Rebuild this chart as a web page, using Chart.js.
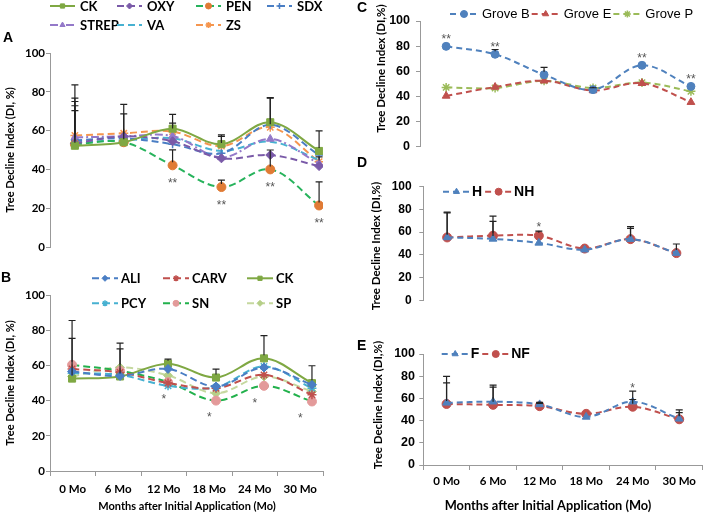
<!DOCTYPE html>
<html lang="en">
<head>
<meta charset="utf-8" />
<title>Tree Decline Index</title>
<script src="https://cdn.jsdelivr.net/npm/chart.js@4.4.1/dist/chart.umd.min.js"></script>
<style>
  html, body { margin: 0; padding: 0; background: #fff; }
  #wrap { position: relative; width: 708px; height: 515px; overflow: hidden; }
  #wrap canvas { position: absolute; }
</style>
</head>
<body>
<div id="wrap">
  <canvas id="chartA" width="340" height="258" style="left:0;top:0"></canvas>
  <canvas id="chartB" width="340" height="257" style="left:0;top:258px"></canvas>
  <canvas id="chartC" width="358" height="160" style="left:350px;top:0"></canvas>
  <canvas id="chartD" width="358" height="160" style="left:350px;top:155px"></canvas>
  <canvas id="chartE" width="358" height="200" style="left:350px;top:315px"></canvas>
</div>
<script>
// ---- data ----
const months = ['0 Mo', '6 Mo', '12 Mo', '18 Mo', '24 Mo', '30 Mo'];
const yTickValues = [0, 20, 40, 60, 80, 100];

// panel A
const ckA    = [52.2, 54.0, 61.0, 53.0, 64.3, 49.5];
const oxyA   = [53.4, 57.0, 54.5, 45.7, 47.4, 41.7];
const penA   = [53.0, 54.0, 42.1, 30.9, 40.0, 21.4];
const sdxA   = [55.0, 56.0, 53.0, 48.3, 63.0, 47.4];
const strepA = [56.5, 57.0, 57.2, 46.2, 55.7, 43.0];
const vaA    = [54.0, 55.0, 56.0, 49.5, 54.3, 44.8];
const zsA    = [57.5, 58.6, 59.5, 52.0, 61.7, 44.0];
const ckAErr    = [31.4, 19.5, 7.4, 4.8, 12.7, 10.4];
const oxyAErr   = [19.4, 11.6, 0, 0, 0, 0];
const penAErr   = [0, 0, 8.0, 3.6, 10.0, 12.2];
const sdxAErr   = [20.0, 0, 0, 0, 0, 0];
const strepAErr = [13.8, 0, 0, 0, 0, 3.5];
const zsAErr    = [19.2, 0, 4.4, 5.0, 15.0, 0];
const penAStars = ['', '', '**', '**', '**', '**'];

// panel B
const aliB  = [56.5, 54.0, 58.0, 48.0, 58.8, 49.0];
const carvB = [58.0, 56.0, 50.0, 47.0, 54.6, 43.3];
const ckB   = [52.5, 53.7, 61.0, 53.1, 64.0, 49.9];
const pcyB  = [55.6, 54.6, 48.4, 47.6, 59.4, 47.0];
const snB   = [60.3, 56.9, 50.5, 40.0, 48.4, 39.5];
const spB   = [53.7, 58.8, 54.3, 44.2, 53.7, 45.2];
const ckBErr = [33.0, 19.0, 2.6, 4.8, 12.9, 9.9];
const snBErr = [15.0, 0, 0, 0, 0, 0];
const spBErr = [0, 10.6, 0, 0, 0, 0];
const snBStars = ['', '', '*', '*', '*', '*'];

// panel C
const groveB = [79.8, 73.5, 57.2, 45.3, 64.7, 47.9];
const groveE = [40.3, 47.4, 52.4, 44.6, 50.4, 35.3];
const groveP = [47.1, 46.6, 52.4, 46.6, 50.9, 44.0];
const groveBErr = [0, 3.8, 5.8, 1.5, 0, 0];
const groveBStars = ['**', '**', '', '', '**', '**'];

// panel D
const hD  = [55.3, 54.0, 50.5, 44.5, 53.8, 41.5];
const nhD = [55.3, 56.8, 56.8, 45.5, 53.8, 41.5];
const hDErr  = [21.7, 15.5, 0, 0, 9.5, 0];
const nhDErr = [22.3, 17.2, 4.0, 0, 11.0, 8.0];
const nhDStars = ['', '', '*', '', '', ''];

// panel E
const fE  = [56.0, 57.0, 54.6, 43.3, 57.0, 41.6];
const nfE = [55.0, 54.2, 53.0, 46.1, 52.5, 41.2];
const fEErr  = [23.8, 15.0, 1.8, 0, 9.5, 8.0];
const nfEErr = [19.0, 16.0, 2.5, 0, 6.5, 6.0];
const fEStars = ['', '', '', '', '*', ''];

// ---- styles ----
const GRAY = '#999';
const lato = sz => ({ family: 'Lato', size: sz, weight: 'bold' });
const libs = sz => ({ family: 'Liberation Sans', size: sz, weight: 'bold' });
const LETTER = 'bold 14px "Liberation Sans"';

function style(color, dash, marker, markerColor, r) {
  const mc = markerColor || color;
  return {
    borderColor: color, backgroundColor: mc, borderWidth: 2, borderDash: dash, tension: 0.35,
    pointStyle: marker || 'circle', pointRadius: marker ? r : 0,
    pointBackgroundColor: mc, pointBorderColor: mc,
    pointBorderWidth: (marker === 'star' || marker === 'cross') ? 1.5 : 1,
    xAxisID: 'xd'
  };
}
function series(label, values, errs, st, extra) {
  return Object.assign({ label, data: values.map((v, i) => ({ x: i, y: v })), errUp: errs }, st, extra || {});
}

// ---- plugins ----
const errBars = {
  id: 'errBars',
  afterDatasetsDraw(chart) {
    const ctx = chart.ctx, ys = chart.scales.y;
    chart.data.datasets.forEach((ds, di) => {
      if (!ds.errUp) return;
      const meta = chart.getDatasetMeta(di);
      ds.errUp.forEach((e, i) => {
        if (!e) return;
        const p = meta.data[i];
        const top = ys.getPixelForValue(ds.data[i].y + e);
        ctx.save();
        ctx.strokeStyle = '#222'; ctx.lineWidth = 1.2;
        ctx.beginPath();
        ctx.moveTo(p.x, p.y - 3); ctx.lineTo(p.x, top);
        ctx.moveTo(p.x - 3.5, top); ctx.lineTo(p.x + 3.5, top);
        ctx.stroke();
        ctx.restore();
      });
    });
  }
};

const starMarks = {
  id: 'starMarks',
  afterDatasetsDraw(chart) {
    const ctx = chart.ctx;
    chart.data.datasets.forEach((ds, di) => {
      if (!ds.stars) return;
      const meta = chart.getDatasetMeta(di);
      ds.stars.forEach((s, i) => {
        if (!s) return;
        const p = meta.data[i];
        const x = ds.starOnCategory ? chart.scales.x.getPixelForValue(i) : p.x;
        ctx.save();
        ctx.font = '12px "Liberation Sans"'; ctx.fillStyle = '#555';
        ctx.textAlign = 'center'; ctx.textBaseline = 'alphabetic';
        ctx.fillText(s, x, p.y + ds.starDy + 6.7);
        ctx.restore();
      });
    });
  }
};

function drawMarker(ctx, ds, r, x, y) {
  if (Chart.helpers && Chart.helpers.drawPoint) {
    Chart.helpers.drawPoint(ctx, { pointStyle: ds.pointStyle, radius: r, borderWidth: ds.pointBorderWidth, rotation: 0 }, x, y);
  } else {
    ctx.beginPath(); ctx.arc(x, y, r, 0, Math.PI * 2); ctx.fill();
  }
}

function legendPlugin(spec) {
  return {
    id: 'legendBox',
    afterDraw(chart) {
      const ctx = chart.ctx;
      ctx.save();
      ctx.font = spec.font; ctx.textBaseline = 'middle'; ctx.textAlign = 'left';
      let fx = spec.x;
      chart.data.datasets.forEach((ds, k) => {
        let x, y;
        if (spec.cols) { x = spec.cols[k % spec.cols.length]; y = spec.rows[Math.floor(k / spec.cols.length)]; }
        else { x = fx; y = spec.y; }
        ctx.strokeStyle = ds.borderColor; ctx.lineWidth = ds.borderWidth;
        ctx.setLineDash(ds.borderDash || []);
        ctx.beginPath(); ctx.moveTo(x, y); ctx.lineTo(x + spec.len, y); ctx.stroke();
        ctx.setLineDash([]);
        if (ds.pointRadius > 0) {
          ctx.fillStyle = ds.pointBackgroundColor; ctx.strokeStyle = ds.pointBorderColor;
          ctx.lineWidth = ds.pointBorderWidth;
          drawMarker(ctx, ds, spec.r || ds.pointRadius, x + spec.len / 2, y);
        }
        ctx.fillStyle = spec.color || '#000';
        const tx = x + spec.len + spec.gap;
        ctx.fillText(ds.label, tx, y + 0.5);
        fx = tx + ctx.measureText(ds.label).width + (spec.gap2 || 0);
      });
      ctx.restore();
    }
  };
}

function textPlugin(items) {
  return {
    id: 'panelTexts',
    afterDraw(chart) {
      const ctx = chart.ctx;
      items.forEach(it => {
        ctx.save();
        ctx.font = it.font; ctx.fillStyle = it.color || '#000';
        ctx.textAlign = it.align || 'center'; ctx.textBaseline = it.base || 'middle';
        ctx.translate(it.x, it.y);
        if (it.rot) ctx.rotate(it.rot * Math.PI / 180);
        ctx.fillText(it.t, 0, 0);
        ctx.restore();
      });
    }
  };
}

function makeChart(id, p) {
  return new Chart(document.getElementById(id), {
    type: 'line',
    data: { labels: months, datasets: p.datasets },
    options: {
      responsive: false, animation: false, events: [],
      layout: { padding: p.pad },
      plugins: { legend: { display: false }, tooltip: { enabled: false } },
      scales: {
        x: {
          type: 'category', display: !!p.xH, offset: true,
          grid: { offset: true, drawOnChartArea: false, drawTicks: true, tickLength: 5, color: GRAY },
          border: { display: true, color: GRAY, width: 1 },
          ticks: { font: p.xFont, color: '#000', padding: p.xPad, maxRotation: 0, autoSkip: false },
          afterFit: s => { s.height = p.xH || 0; }
        },
        xd: { type: 'linear', display: false, min: p.xd[0], max: p.xd[1] },
        y: {
          min: yTickValues[0], max: yTickValues[yTickValues.length - 1],
          afterBuildTicks: s => { s.ticks = yTickValues.map(v => ({ value: v })); },
          grid: { drawOnChartArea: false, drawTicks: true, tickLength: 4, color: GRAY },
          border: { display: true, color: GRAY, width: 1 },
          ticks: { font: p.yFont, color: '#000', padding: p.yPad },
          afterFit: s => { s.width = p.yW; }
        }
      }
    },
    plugins: [errBars, starMarks, legendPlugin(p.legend), textPlugin(p.texts)]
  });
}

const D1 = [7, 4];
const BLUE = '#4a7ec4', RED = '#c0504d', CKG = '#7fa843', CYAN = '#47b1d1';

// ---- panel A ----
makeChart('chartA', {
  pad: { left: 0, top: 53, right: 17, bottom: 11 }, yW: 50, yFont: lato(11.5), yPad: 1,
  xd: [-0.51, 5.08],
  datasets: [
    series('CK', ckA, ckAErr, style(CKG, [], 'rect', CKG, 5)),
    series('OXY', oxyA, oxyAErr, style('#7a5aa8', D1, 'rectRot', null, 4.5)),
    series('PEN', penA, penAErr, style('#27b35c', D1, 'circle', '#e07b35', 4.5), { stars: penAStars, starDy: 15 }),
    series('SDX', sdxA, sdxAErr, style(BLUE, D1, 'cross', null, 4)),
    series('STREP', strepA, strepAErr, style('#9479c9', [8, 3, 2, 3], 'triangle', null, 4.5)),
    series('VA', vaA, null, style(CYAN, D1, null)),
    series('ZS', zsA, zsAErr, style('#f5964f', D1, 'star', null, 4.5))
  ],
  legend: { cols: [50, 117, 196, 267], rows: [6, 25], len: 25, gap: 5, font: 'bold 13px Lato', r: 3 },
  texts: [
    { t: 'A', x: 3, y: 42, font: LETTER, align: 'left', base: 'alphabetic' },
    { t: 'Tree Decline Index (DI, %)', x: 10, y: 150, rot: -90, font: 'bold 11px Lato' }
  ]
});

// ---- panel B ----
makeChart('chartB', {
  pad: { left: 0, top: 37, right: 17, bottom: 0 }, yW: 50, yFont: lato(11.5), yPad: 1,
  xH: 44, xFont: lato(11.5), xPad: 6, xd: [-0.46, 5.23],
  datasets: [
    series('ALI', aliB, null, style(BLUE, D1, 'rectRot', null, 4.5)),
    series('CARV', carvB, null, style(RED, D1, 'star', null, 4.5)),
    series('CK', ckB, ckBErr, style(CKG, [], 'rect', CKG, 5)),
    series('PCY', pcyB, null, style(CYAN, D1, 'star', null, 4.5)),
    series('SN', snB, snBErr, style('#22b14c', D1, 'circle', '#e39a9a', 4.5), { stars: snBStars, starDy: 14, starOnCategory: true }),
    series('SP', spB, spBErr, style('#c5d89f', D1, 'rectRot', '#b6cf88', 4.5))
  ],
  legend: { cols: [92, 163, 247], rows: [20.3, 45.3], len: 26, gap: 3, font: 'bold 13px Lato', r: 3 },
  texts: [
    { t: 'B', x: 1, y: 24, font: LETTER, align: 'left', base: 'alphabetic' },
    { t: 'Tree Decline Index (DI, %)', x: 10, y: 125, rot: -90, font: 'bold 11px Lato' },
    { t: 'Months after Initial Application (Mo)', x: 187, y: 248.7, font: 'bold 11px Lato' }
  ]
});

// ---- panel C ----
makeChart('chartC', {
  pad: { left: 0, top: 21, right: 0, bottom: 6.7 }, yW: 70, yFont: libs(12.5), yPad: 6,
  xd: [-0.534, 5.226],
  datasets: [
    series('Grove B', groveB, groveBErr, style('#4f81bd', [6, 4], 'circle', null, 4), { stars: groveBStars, starDy: -10 }),
    series('Grove E', groveE, null, style(RED, [6, 4], 'triangle', null, 4.5)),
    series('Grove P', groveP, null, style('#9bbb59', [6, 4], 'star', null, 4.5))
  ],
  legend: { x: 100, y: 14, len: 28, gap: 4, gap2: 2, font: '13px "Liberation Sans"', r: 3.5 },
  texts: [
    { t: 'C', x: 7, y: 12, font: LETTER, align: 'left', base: 'alphabetic' },
    { t: 'Tree Decline Index (DI,%)', x: 31.7, y: 68.5, rot: -90, font: 'bold 11.5px Lato' }
  ]
});

// ---- panel D ----
makeChart('chartD', {
  pad: { left: 0, top: 31.7, right: 4.7, bottom: 11.7 }, yW: 73.3, yFont: libs(12), yPad: 7.6,
  xd: [-0.52, 5.57],
  datasets: [
    series('H', hD, hDErr, style('#4f81bd', [6, 4], 'triangle', null, 4.5)),
    series('NH', nhD, nhDErr, style(RED, [6, 4], 'circle', null, 4.5), { stars: nhDStars, starDy: -11 })
  ],
  legend: { x: 93, y: 36.7, len: 27, gap: 2, gap2: 3, font: 'bold 14px "Liberation Sans"', r: 3.5 },
  texts: [
    { t: 'D', x: 7, y: 12, font: LETTER, align: 'left', base: 'alphabetic' },
    { t: 'Tree Decline Index (DI,%)', x: 26.7, y: 91, rot: -90, font: 'bold 11.5px Lato' }
  ]
});

// ---- panel E ----
makeChart('chartE', {
  pad: { left: 0, top: 39, right: 4.7, bottom: 0 }, yW: 73.3, yFont: libs(12.5), yPad: 4.3,
  xH: 50, xFont: lato(11.5), xPad: 4, xd: [-0.5, 5.5],
  datasets: [
    series('F', fE, fEErr, style('#4f81bd', [6, 4], 'triangle', null, 4.5), { stars: fEStars, starDy: -16 }),
    series('NF', nfE, nfEErr, style(RED, [6, 4], 'circle', null, 4.5))
  ],
  legend: { x: 91.7, y: 39, len: 27, gap: 2, gap2: 3, font: 'bold 14px "Liberation Sans"', r: 3.5 },
  texts: [
    { t: 'E', x: 7, y: 35, font: LETTER, align: 'left', base: 'alphabetic' },
    { t: 'Tree Decline Index (DI,%)', x: 28, y: 90, rot: -90, font: 'bold 11.5px Lato' },
    { t: 'Months after Initial Application (Mo)', x: 198, y: 190.7, font: 'bold 12.8px Lato' }
  ]
});
</script>
</body>
</html>
